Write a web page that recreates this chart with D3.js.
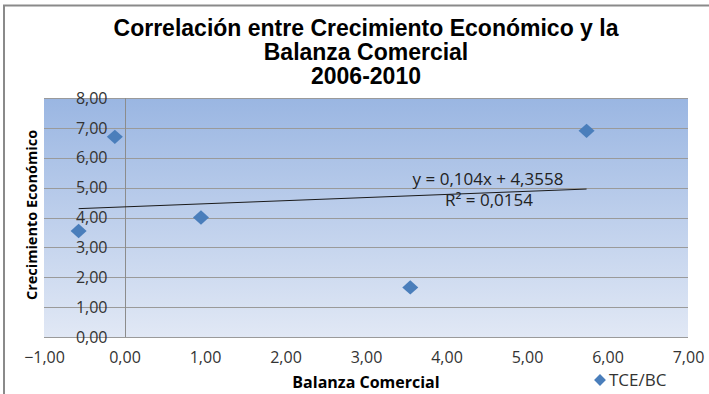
<!DOCTYPE html>
<html>
<head>
<meta charset="utf-8">
<script src="https://cdn.jsdelivr.net/npm/d3@7"></script>
<style>
  html, body { margin: 0; padding: 0; background: #fff; }
  svg { display: block; }
</style>
</head>
<body>
<svg id="chart" width="709" height="394"></svg>
<script>
// Balanza comercial (x) vs crecimiento económico (y), 2006-2010
const balanza = [-0.57, -0.12, 0.95, 3.55, 5.74];
const crecimiento = [3.55, 6.70, 4.00, 1.66, 6.90];
const xTicks = [-1, 0, 1, 2, 3, 4, 5, 6, 7];
const yTicks = [0, 1, 2, 3, 4, 5, 6, 7, 8];
const trendSlope = 0.104;
const trendIntercept = 4.3558;
const trendR2 = "0,0154";
const titleLines = ["Correlación entre Crecimiento Económico y la", "Balanza Comercial", "2006-2010"];

const svg = d3.select("#chart");
const fmt = v => d3.format(".2f")(v).replace(".", ",");
const bodyFont = "'Open Sans', sans-serif";

const plot = { left: 44, right: 688, top: 98, bottom: 337 };
const x = d3.scaleLinear().domain([-1, 7]).range([plot.left, plot.right]);
const y = d3.scaleLinear().domain([0, 8]).range([plot.bottom, plot.top]);

// outer frame (left and top edges)
svg.append("path")
  .attr("d", "M4,394 V5.5 H709")
  .attr("fill", "none").attr("stroke", "#8a8a8a").attr("stroke-width", 2);

// plot background gradient
const defs = svg.append("defs");
const grad = defs.append("linearGradient").attr("id", "bg")
  .attr("x1", 0).attr("y1", 0).attr("x2", 0).attr("y2", 1);
grad.append("stop").attr("offset", "0%").attr("stop-color", "#9ab6e2");
grad.append("stop").attr("offset", "100%").attr("stop-color", "#e1e8f5");
svg.append("rect")
  .attr("x", plot.left).attr("y", plot.top)
  .attr("width", plot.right - plot.left).attr("height", plot.bottom - plot.top)
  .attr("fill", "url(#bg)");

// horizontal gridlines
svg.append("g").selectAll("line").data(yTicks).join("line")
  .attr("x1", plot.left).attr("x2", plot.right)
  .attr("y1", d => Math.round(y(d)) + 0.5).attr("y2", d => Math.round(y(d)) + 0.5)
  .attr("stroke", "#9a9a9a").attr("stroke-width", 1);

// vertical axis line crossing at x = 0
svg.append("line")
  .attr("x1", Math.round(x(0)) + 0.5).attr("x2", Math.round(x(0)) + 0.5)
  .attr("y1", plot.top).attr("y2", plot.bottom)
  .attr("stroke", "#8c8c8c").attr("stroke-width", 1);

// y tick labels next to the crossing axis
const yAxis = d3.axisLeft(y).tickValues(yTicks).tickFormat(fmt).tickSize(0).tickPadding(0);
const gy = svg.append("g").attr("transform", `translate(${x(0) - 17},0)`).call(yAxis);
gy.select(".domain").remove();
gy.selectAll("text")
  .attr("font-family", bodyFont).attr("font-size", 16).attr("fill", "#333");

// x tick labels
const xAxis = d3.axisBottom(x).tickValues(xTicks).tickFormat(fmt).tickSize(0).tickPadding(0);
const gx = svg.append("g").attr("transform", `translate(0,${plot.bottom + 15})`).call(xAxis);
gx.select(".domain").remove();
gx.selectAll("text")
  .attr("font-family", bodyFont).attr("font-size", 16).attr("fill", "#333");

// linear trendline across the data range
const xr = d3.extent(balanza);
svg.append("line")
  .attr("x1", x(xr[0])).attr("y1", y(trendSlope * xr[0] + trendIntercept))
  .attr("x2", x(xr[1])).attr("y2", y(trendSlope * xr[1] + trendIntercept))
  .attr("stroke", "#1a1a1a").attr("stroke-width", 1);

// trendline equation
const eq = svg.append("g").attr("font-family", bodyFont)
  .attr("font-size", 17).attr("fill", "#222").attr("text-anchor", "middle");
eq.append("text").attr("x", 488).attr("y", 185)
  .text(`y = ${String(trendSlope).replace(".", ",")}x + ${String(trendIntercept).replace(".", ",")}`);
eq.append("text").attr("x", 489).attr("y", 206).text(`R² = ${trendR2}`);

// data markers
const diamond = d3.symbol().type(d3.symbolSquare).size(128);
svg.append("g").selectAll("path").data(balanza).join("path")
  .attr("transform", (d, i) => `translate(${x(d)},${y(crecimiento[i])}) scale(1,0.9) rotate(45)`)
  .attr("d", diamond)
  .attr("fill", "#4a7ebb");

// title
svg.append("g").selectAll("text").data(titleLines).join("text")
  .attr("x", 366).attr("y", (d, i) => 36 + i * 24)
  .attr("text-anchor", "middle")
  .attr("font-family", "'Liberation Sans', Arial, sans-serif")
  .attr("font-weight", "bold").attr("font-size", 23).attr("fill", "#000")
  .text(d => d);

// axis titles
svg.append("text")
  .attr("x", 366).attr("y", 388).attr("text-anchor", "middle")
  .attr("font-family", bodyFont).attr("font-weight", "bold")
  .attr("font-size", 16).attr("fill", "#000")
  .text("Balanza Comercial");
svg.append("text")
  .attr("transform", "translate(37,215) rotate(-90)").attr("text-anchor", "middle")
  .attr("font-family", bodyFont).attr("font-weight", "bold")
  .attr("font-size", 14.5).attr("fill", "#000")
  .text("Crecimiento Económico");

// legend
const lg = svg.append("g").attr("transform", "translate(600,380)");
lg.append("path").attr("d", d3.symbol().type(d3.symbolSquare).size(70))
  .attr("transform", "rotate(45)").attr("fill", "#4a7ebb");
lg.append("text").attr("x", 9).attr("y", 6)
  .attr("font-family", bodyFont).attr("font-size", 17).attr("fill", "#333")
  .text("TCE/BC");
</script>
</body>
</html>
